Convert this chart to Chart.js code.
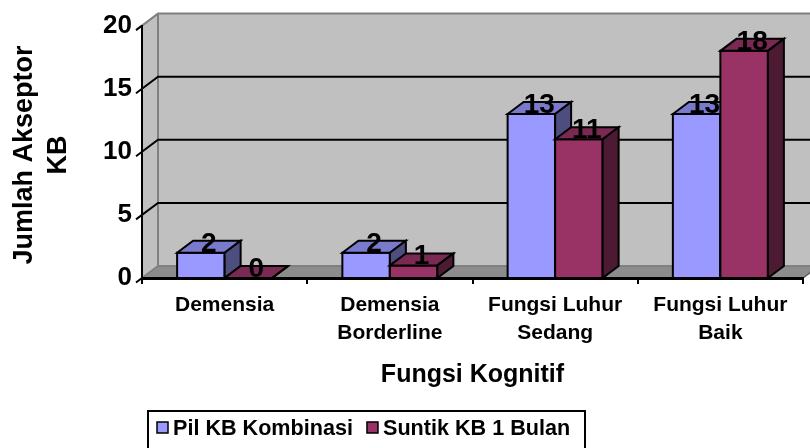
<!DOCTYPE html>
<html><head><meta charset="utf-8">
<script src="https://cdn.jsdelivr.net/npm/chart.js@4/dist/chart.umd.min.js"></script>
<style>html,body{margin:0;padding:0;background:#fff;} canvas{display:block;}</style>
</head><body>
<canvas id="c" width="810" height="448"></canvas>
<script>
const categories = [['Demensia'], ['Demensia', 'Borderline'], ['Fungsi Luhur', 'Sedang'], ['Fungsi Luhur', 'Baik']];
const seriesNames = ['Pil KB Kombinasi', 'Suntik KB 1 Bulan'];
const pilKB = [2, 2, 13, 13];
const suntikKB = [0, 1, 11, 18];
const yTickValues = [0, 5, 10, 15, 20];
const yTitleLines = ['Jumlah Akseptor', 'KB'];
const xTitle = 'Fungsi Kognitif';

const FONT = '"Liberation Sans", Arial, Helvetica, sans-serif';
const DX = 16, DY = -12;
const seriesColors = ['#9999FF', '#993366'];
const topColors = ['#7A7ACC', '#7A2952'];
const sideColors = ['#4D4D80', '#4D1A33'];

const threeD = {
  id: 'threeD',
  beforeDraw(chart) {
    const {ctx, chartArea: a, scales: {x, y}} = chart;
    const y0 = y.getPixelForValue(y.min), yM = y.getPixelForValue(y.max);
    const L = a.left, R = a.right;
    ctx.save();
    ctx.fillStyle = '#C0C0C0';
    ctx.fillRect(L + DX, yM + DY, R - L, y0 - yM);
    ctx.beginPath();
    ctx.moveTo(L, yM); ctx.lineTo(L + DX, yM + DY); ctx.lineTo(L + DX, y0 + DY); ctx.lineTo(L, y0); ctx.closePath();
    ctx.fill();
    ctx.fillStyle = '#8C8C8C';
    ctx.beginPath();
    ctx.moveTo(L, y0); ctx.lineTo(L + DX, y0 + DY); ctx.lineTo(R + DX, y0 + DY); ctx.lineTo(R, y0); ctx.closePath();
    ctx.fill();
    ctx.strokeStyle = '#808080'; ctx.lineWidth = 2;
    ctx.beginPath();
    ctx.moveTo(L, yM); ctx.lineTo(L + DX, yM + DY); ctx.lineTo(R + DX + 10, yM + DY);
    ctx.moveTo(L + DX, yM + DY); ctx.lineTo(L + DX, y0 + DY); ctx.lineTo(R + DX, y0 + DY);
    ctx.moveTo(L, y0); ctx.lineTo(L + DX, y0 + DY);
    ctx.stroke();
    ctx.strokeStyle = '#606060'; ctx.lineWidth = 1.5;
    ctx.beginPath(); ctx.moveTo(R, y0); ctx.lineTo(R + DX, y0 + DY); ctx.stroke();
    ctx.strokeStyle = '#000'; ctx.lineWidth = 2;
    y.ticks.forEach(t => {
      const py = y.getPixelForValue(t.value);
      ctx.beginPath();
      ctx.moveTo(L - 6, py + 4.5); ctx.lineTo(L, py);
      if (t.value !== y.min && t.value !== y.max) {
        ctx.lineTo(L + DX, py + DY); ctx.lineTo(R + DX + 10, py + DY);
      }
      ctx.stroke();
    });
    ctx.restore();
  },
  afterDatasetsDraw(chart) {
    const {ctx} = chart;
    ctx.save();
    ctx.strokeStyle = '#000'; ctx.lineWidth = 2; ctx.lineJoin = 'miter';
    const n = chart.data.labels.length;
    for (let i = 0; i < n; i++) {
      chart.data.datasets.forEach((ds, di) => {
        const el = chart.getDatasetMeta(di).data[i];
        const p = el.getProps(['x', 'y', 'base', 'width'], true);
        const l = p.x - p.width / 2, r = p.x + p.width / 2, t = p.y, b = p.base;
        ctx.fillStyle = seriesColors[di];
        ctx.beginPath(); ctx.rect(l, t, r - l, b - t); ctx.fill(); ctx.stroke();
        ctx.fillStyle = topColors[di];
        ctx.beginPath(); ctx.moveTo(l, t); ctx.lineTo(l + DX, t + DY); ctx.lineTo(r + DX, t + DY); ctx.lineTo(r, t); ctx.closePath(); ctx.fill(); ctx.stroke();
        ctx.fillStyle = sideColors[di];
        ctx.beginPath(); ctx.moveTo(r, t); ctx.lineTo(r + DX, t + DY); ctx.lineTo(r + DX, b + DY); ctx.lineTo(r, b); ctx.closePath(); ctx.fill(); ctx.stroke();
      });
    }
    ctx.fillStyle = '#000';
    ctx.font = 'bold 28px ' + FONT;
    ctx.textAlign = 'center'; ctx.textBaseline = 'alphabetic';
    chart.data.datasets.forEach((ds, di) => {
      chart.getDatasetMeta(di).data.forEach((el, i) => {
        const p = el.getProps(['x', 'y'], true);
        ctx.fillText(String(ds.data[i]), p.x + DX / 2, p.y - 1);
      });
    });
    ctx.restore();
  },
  afterDraw(chart) {
    const {ctx} = chart;
    ctx.save();
    ctx.fillStyle = '#000';
    ctx.font = 'bold 27px ' + FONT;
    ctx.textAlign = 'center'; ctx.textBaseline = 'middle';
    ctx.translate(25, 155); ctx.rotate(-Math.PI / 2);
    yTitleLines.forEach((s, i) => ctx.fillText(s, 0, i * 34));
    ctx.restore();
    ctx.save();
    ctx.strokeStyle = '#000'; ctx.lineWidth = 2;
    ctx.strokeRect(148, 411, 437, 60);
    ctx.font = 'bold 21.6px ' + FONT;
    ctx.textBaseline = 'alphabetic'; ctx.textAlign = 'left';
    let lx = 157;
    chart.data.datasets.forEach((ds, di) => {
      ctx.fillStyle = seriesColors[di];
      ctx.lineWidth = 1.5;
      ctx.fillRect(lx, 422, 11, 11); ctx.strokeRect(lx, 422, 11, 11);
      ctx.fillStyle = '#000';
      ctx.fillText(ds.label, lx + 16, 435);
      lx += 16 + ctx.measureText(ds.label).width + 14;
    });
    ctx.restore();
  }
};

new Chart(document.getElementById('c'), {
  type: 'bar',
  data: {
    labels: categories,
    datasets: [
      {label: seriesNames[0], data: pilKB, backgroundColor: seriesColors[0], borderWidth: 0},
      {label: seriesNames[1], data: suntikKB, backgroundColor: seriesColors[1], borderWidth: 0}
    ]
  },
  options: {
    responsive: false,
    animation: false,
    devicePixelRatio: 1,
    categoryPercentage: 0.575,
    barPercentage: 1,
    layout: {padding: {top: 21, right: 7, left: 0, bottom: 0}},
    plugins: {legend: {display: false}, tooltip: {enabled: false}},
    scales: {
      x: {
        afterFit(s) { s.height = 170; },
        grid: {display: true, drawOnChartArea: false, drawTicks: true, tickLength: 6, color: '#000', lineWidth: 2, offset: true},
        border: {display: true, color: '#000', width: 3},
        ticks: {color: '#000', padding: 7, maxRotation: 0, autoSkip: false, font: {family: FONT, size: 21, weight: 'bold', lineHeight: 1.33}},
        title: {display: true, text: xTitle, color: '#000', font: {family: FONT, size: 25, weight: 'bold', lineHeight: 1.2}, padding: {top: 0, bottom: 58}}
      },
      y: {
        min: 0, max: 20,
        afterFit(s) { s.width = 142; },
        afterBuildTicks(s) { s.ticks = yTickValues.map(v => ({value: v})); },
        grid: {display: false, drawTicks: false, drawOnChartArea: false},
        border: {display: true, color: '#000', width: 2},
        ticks: {color: '#000', padding: 10, font: {family: FONT, size: 26, weight: 'bold'}}
      }
    }
  },
  plugins: [threeD]
});
</script>
</body></html>
